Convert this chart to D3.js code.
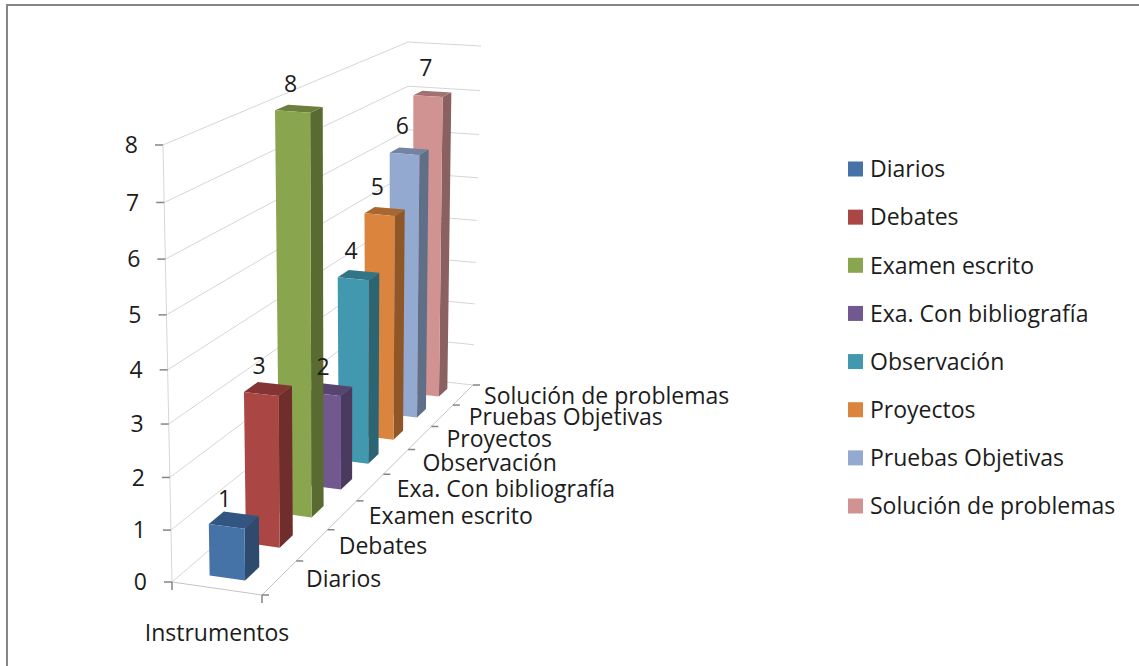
<!DOCTYPE html>
<html>
<head>
<meta charset="utf-8">
<script src="https://cdn.jsdelivr.net/npm/d3@7"></script>
<style>
  html, body { margin: 0; padding: 0; background: #fff; }
  svg { display: block; }
  text { font-family: "Open Sans", Lato, sans-serif; fill: #1c1c1c; }
</style>
</head>
<body>
<svg id="chart" width="1139" height="666"></svg>
<script>
// Instruments and how many times each one was reported
const categories = ["Diarios", "Debates", "Examen escrito", "Exa. Con bibliografía",
                    "Observación", "Proyectos", "Pruebas Objetivas", "Solución de problemas"];
const values = [1, 3, 8, 2, 4, 5, 6, 7];
const valueTicks = [0, 1, 2, 3, 4, 5, 6, 7, 8];
const axisTitle = "Instrumentos";

// Face shades per series: front, side, top
const frontColors = ["#4573a7", "#aa4644", "#89a54e", "#71588f", "#4298af", "#db843d", "#93a9cf", "#d19392"];
const sideColors  = ["#2e4a6d", "#6f2d2c", "#5a6b32", "#4a3a5e", "#2b6472", "#8f5628", "#5f6f88", "#8a6060"];
const topColors   = ["#325681", "#843533", "#6a803c", "#57446f", "#327587", "#a9662f", "#7284a2", "#a27271"];

const svg = d3.select("#chart");
const fontSize = 23;

// Perspective box corners on the page
const floorFL = [172, 582], floorFR = [262, 595], floorBL = [410, 378], floorBR = [473, 385];
const roofFL  = [163, 145], roofFR  = [259, 152], roofBL  = [408, 42],  roofBR  = [481, 46];

const lerp = (a, b, t) => [a[0] + (b[0] - a[0]) * t, a[1] + (b[1] - a[1]) * t];
const foreshorten = (u, w) => u / (u + (1 - u) * w);

// Scales: series along the depth axis, value up the wall, position across the floor
const depthScale = d3.scaleBand().domain(categories).range([0, 1]).paddingInner(0.6).paddingOuter(0.3);
const valueScale = d3.scaleLinear().domain([0, 8]).range([0, 1]);
const acrossScale = d3.scaleLinear().domain([0, 1]).range([0, 1]);
const step = depthScale.step();

// Map across (0..1), depth (0..1) and value into page coordinates
function project(across, depth, value) {
  const t = foreshorten(depth, 0.739);
  const v = foreshorten(valueScale(value), 1.06);
  const x = acrossScale(across);
  const floor = lerp(lerp(floorFL, floorBL, t), lerp(floorFR, floorBR, t), x);
  const roof = lerp(lerp(roofFL, roofBL, t), lerp(roofFR, roofBR, t), x);
  return lerp(floor, roof, v);
}

const line = d3.line();
const poly = pts => line(pts) + "Z";

// Gridlines on the side wall and the back wall
const grid = svg.append("g").attr("fill", "none").attr("stroke", "#d6d6d6").attr("stroke-width", 1);
const depthSamples = d3.range(0, 1.0001, 0.05);
valueTicks.forEach(v => {
  grid.append("path").attr("d", line(depthSamples.map(d => project(0, d, v))));
  grid.append("path").attr("d", line([project(0, 1, v), project(1, 1, v)]));
});
grid.append("path").attr("d", line([project(0, 0, 0), project(0, 0, 8)]));

// Floor outline
const floorLines = svg.append("g").attr("fill", "none").attr("stroke", "#c4c4c4").attr("stroke-width", 1);
floorLines.append("path").attr("d", line([project(0, 0, 0), project(1, 0, 0)]));
floorLines.append("path").attr("d", line(depthSamples.map(d => project(1, d, 0))));

// Value axis ticks and labels
const axisColor = "#858585";
const valueAxis = svg.append("g");
valueTicks.forEach(v => {
  const p = project(0, 0, v);
  valueAxis.append("line").attr("x1", p[0] - 8).attr("x2", p[0]).attr("y1", p[1]).attr("y2", p[1])
    .attr("stroke", axisColor).attr("stroke-width", 1.5);
  valueAxis.append("text").attr("x", p[0] - 25).attr("y", p[1]).attr("dy", "0.36em")
    .attr("text-anchor", "end").attr("font-size", fontSize).text(v);
});

// Bottom-edge ticks at the two front floor corners
[0, 1].forEach(x => {
  const p = project(x, 0, 0);
  svg.append("line").attr("x1", p[0]).attr("x2", p[0]).attr("y1", p[1]).attr("y2", p[1] + 8)
    .attr("stroke", axisColor).attr("stroke-width", 1.5);
});

// Depth axis ticks and category labels
const depthAxis = svg.append("g");
d3.range(0, categories.length + 1).forEach(i => {
  const p = project(1, i * step, 0);
  depthAxis.append("line").attr("x1", p[0]).attr("x2", p[0] + 7).attr("y1", p[1]).attr("y2", p[1])
    .attr("stroke", axisColor).attr("stroke-width", 1.5);
});
categories.forEach((c, i) => {
  const p = project(1, depthScale(c) + depthScale.bandwidth() / 2, 0);
  depthAxis.append("text").attr("x", p[0] + (i === categories.length - 1 ? 21 : 26.5)).attr("y", p[1] + 1)
    .attr("dy", "0.36em").attr("font-size", fontSize).text(c);
});

// Bars, drawn from the back row forward so nearer ones overlap
const acrossLo = 0.29, acrossHi = 0.69;
const rows = categories.map((c, i) => ({ c, i, v: values[i] })).reverse();
const bars = svg.append("g").selectAll("g").data(rows).join("g");
bars.append("path").attr("fill", d => sideColors[d.i]).attr("d", d => {
  const d0 = depthScale(d.c), d1 = d0 + depthScale.bandwidth();
  return poly([project(acrossHi, d0, 0), project(acrossHi, d1, 0), project(acrossHi, d1, d.v), project(acrossHi, d0, d.v)]);
});
bars.append("path").attr("fill", d => topColors[d.i]).attr("d", d => {
  const d0 = depthScale(d.c), d1 = d0 + depthScale.bandwidth();
  return poly([project(acrossLo, d0, d.v), project(acrossHi, d0, d.v), project(acrossHi, d1, d.v), project(acrossLo, d1, d.v)]);
});
bars.append("path").attr("fill", d => frontColors[d.i]).attr("d", d => {
  const d0 = depthScale(d.c);
  return poly([project(acrossLo, d0, 0), project(acrossHi, d0, 0), project(acrossHi, d0, d.v), project(acrossLo, d0, d.v)]);
});

// Value labels above each bar, on top of every bar
svg.append("g").selectAll("text").data(rows).join("text")
  .attr("font-size", fontSize).attr("text-anchor", "middle").attr("dy", "0.36em")
  .attr("x", d => project(0.5, depthScale(d.c), d.v)[0] - 3)
  .attr("y", d => project(0.5, depthScale(d.c), d.v)[1] - 28)
  .text(d => d.v);

// Axis title under the front edge
const front = lerp(project(0, 0, 0), project(1, 0, 0), 0.5);
svg.append("text").attr("x", front[0]).attr("y", 633).attr("dy", "0.36em")
  .attr("text-anchor", "middle").attr("font-size", fontSize).text(axisTitle);

// Legend
const legendY = d3.scalePoint().domain(categories).range([169, 506]);
const legend = svg.append("g").selectAll("g").data(categories).join("g")
  .attr("transform", c => `translate(848,${legendY(c)})`);
legend.append("rect").attr("x", 0).attr("y", -7.5).attr("width", 15).attr("height", 15)
  .attr("fill", (c, i) => frontColors[i]);
legend.append("text").attr("x", 22).attr("dy", "0.36em").attr("font-size", fontSize).text(c => c);

// Frame lines along the top and left edges
svg.append("path").attr("fill", "none").attr("stroke", "#868686").attr("stroke-width", 2)
  .attr("d", line([[7, 666], [7, 5], [1139, 5]]));
</script>
</body>
</html>
